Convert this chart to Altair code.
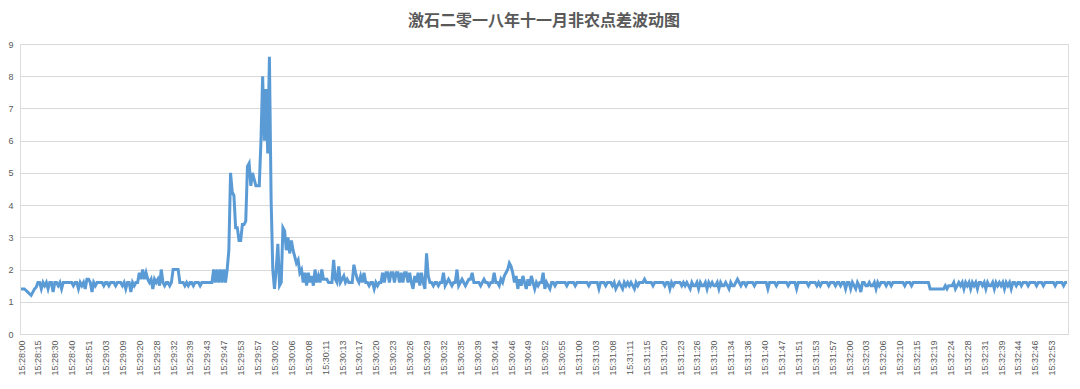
import altair as alt
import pandas as pd

TITLE = "激石二零一八年十一月非农点差波动图"

# x-axis tick labels (one every 10 data points)
tick_labels = [
    "15:28:00", "15:28:15", "15:28:30", "15:28:40", "15:28:51", "15:29:03", "15:29:09",
    "15:29:20", "15:29:28", "15:29:32", "15:29:39", "15:29:43", "15:29:47", "15:29:53",
    "15:29:57", "15:30:02", "15:30:06", "15:30:08", "15:30:11", "15:30:13", "15:30:17",
    "15:30:20", "15:30:23", "15:30:26", "15:30:29", "15:30:32", "15:30:35", "15:30:39",
    "15:30:44", "15:30:46", "15:30:49", "15:30:52", "15:30:55", "15:31:00", "15:31:03",
    "15:31:08", "15:31:11", "15:31:15", "15:31:20", "15:31:23", "15:31:26", "15:31:30",
    "15:31:34", "15:31:36", "15:31:40", "15:31:47", "15:31:51", "15:31:53", "15:31:57",
    "15:32:00", "15:32:03", "15:32:06", "15:32:10", "15:32:15", "15:32:19", "15:32:24",
    "15:32:28", "15:32:31", "15:32:39", "15:32:44", "15:32:46", "15:32:53",
]

# spread values, 10 points per labelled interval
spread_2800_2957 = [
    1.4, 1.4, 1.4, 1.35, 1.3, 1.25, 1.2, 1.3, 1.4, 1.45,
    1.6, 1.6, 1.4, 1.6, 1.5, 1.6, 1.4, 1.6, 1.6, 1.3,
    1.6, 1.6, 1.5, 1.6, 1.4, 1.6, 1.6, 1.6, 1.6, 1.6,
    1.6, 1.5, 1.6, 1.6, 1.4, 1.6, 1.5, 1.6, 1.4, 1.7,
    1.7, 1.6, 1.3, 1.6, 1.5, 1.6, 1.6, 1.6, 1.6, 1.5,
    1.6, 1.6, 1.5, 1.6, 1.6, 1.6, 1.5, 1.6, 1.6, 1.6,
    1.5, 1.6, 1.4, 1.6, 1.6, 1.3, 1.6, 1.5, 1.6, 1.6,
    1.9, 1.7, 2.0, 1.7, 1.9, 1.7, 1.6, 1.7, 1.4, 1.7,
    1.6, 1.7, 1.5, 2.0, 1.6, 1.5, 1.6, 1.6, 1.5, 1.6,
    2.0, 2.0, 2.0, 2.0, 1.6, 1.6, 1.6, 1.5, 1.6, 1.5,
    1.6, 1.6, 1.5, 1.6, 1.6, 1.6, 1.5, 1.6, 1.6, 1.6,
    1.6, 1.6, 1.6, 1.6, 2.0, 1.6, 2.0, 1.6, 2.0, 1.6,
    2.0, 1.6, 2.0, 2.6, 5.0, 4.4, 4.3, 3.3, 3.3, 2.9,
    2.9, 3.4, 3.4, 3.5, 5.2, 5.3, 4.6, 5.0, 4.8, 4.6,
    4.6, 4.6, 6.0, 8.0, 6.0, 7.6, 5.6, 8.6, 4.2, 2.0,
]
spread_3002_3052 = [
    1.4, 2.0, 2.8, 1.5, 1.6, 3.3, 3.2, 2.6, 3.0, 2.5,
    2.9, 2.6, 2.4, 2.2, 2.3, 1.9, 2.0, 1.6, 1.9, 1.5,
    1.9, 1.6, 1.8, 1.5, 2.0, 1.6, 1.8, 1.6, 2.0, 1.7,
    1.7, 1.7, 1.6, 1.6, 1.6, 2.3, 1.7, 1.6, 2.1, 1.6,
    1.7, 1.8, 1.6, 1.7, 1.6, 1.6, 1.6, 2.15, 1.9, 1.7,
    1.6, 1.8, 1.6, 1.9, 1.6, 1.6, 1.5, 1.6, 1.6, 1.4,
    1.6, 1.5, 1.6, 1.6, 1.9, 1.6, 1.9, 1.9, 1.6, 1.9,
    1.9, 1.6, 1.9, 1.9, 1.6, 1.9, 1.6, 1.9, 1.9, 1.6,
    1.9, 1.6, 1.4, 1.8, 1.6, 1.9, 1.5, 1.9, 1.6, 1.4,
    2.5, 1.8, 1.6, 1.6, 1.5, 1.6, 1.6, 1.5, 1.6, 1.6,
    1.9, 1.5, 1.6, 1.7, 1.6, 1.5, 1.6, 1.6, 2.0, 1.5,
    1.6, 1.7, 1.6, 1.5, 1.6, 1.7, 1.7, 1.9, 1.6, 1.6,
    1.6, 1.6, 1.5, 1.6, 1.7, 1.6, 1.6, 1.5, 1.6, 1.6,
    1.9, 1.6, 1.6, 1.5, 1.7, 1.6, 1.8, 1.9, 2.0, 2.2,
    2.1, 1.9, 1.6, 1.8, 1.4, 1.7, 1.5, 1.8, 1.6, 1.4,
    1.7, 1.5, 1.8, 1.6, 1.4, 1.6, 1.5, 1.6, 1.6, 1.9,
]
spread_3055_3253 = [
    1.4, 1.6, 1.5, 1.4, 1.6, 1.6, 1.5, 1.6, 1.6, 1.6,
    1.6, 1.6, 1.6, 1.5, 1.6, 1.6, 1.6, 1.6, 1.5, 1.6,
    1.6, 1.6, 1.6, 1.6, 1.6, 1.6, 1.5, 1.6, 1.6, 1.6,
    1.6, 1.6, 1.4, 1.6, 1.6, 1.6, 1.5, 1.6, 1.6, 1.6,
    1.5, 1.6, 1.4, 1.5, 1.6, 1.5, 1.4, 1.6, 1.5, 1.6,
    1.5, 1.6, 1.5, 1.4, 1.6, 1.5, 1.6, 1.6, 1.6, 1.7,
    1.6, 1.6, 1.6, 1.6, 1.5, 1.6, 1.6, 1.6, 1.6, 1.6,
    1.6, 1.5, 1.6, 1.6, 1.4, 1.6, 1.5, 1.6, 1.6, 1.6,
    1.6, 1.5, 1.6, 1.5, 1.6, 1.5, 1.4, 1.6, 1.5, 1.5,
    1.6, 1.4, 1.6, 1.5, 1.5, 1.6, 1.4, 1.6, 1.5, 1.6,
    1.5, 1.5, 1.6, 1.4, 1.6, 1.5, 1.5, 1.6, 1.5, 1.4,
    1.6, 1.5, 1.5, 1.6, 1.7, 1.6, 1.5, 1.6, 1.6, 1.5,
    1.6, 1.6, 1.6, 1.6, 1.5, 1.6, 1.6, 1.6, 1.6, 1.6,
    1.6, 1.6, 1.4, 1.6, 1.6, 1.6, 1.6, 1.5, 1.6, 1.6,
    1.6, 1.6, 1.6, 1.6, 1.5, 1.6, 1.6, 1.6, 1.6, 1.4,
    1.6, 1.6, 1.6, 1.6, 1.6, 1.6, 1.5, 1.6, 1.6, 1.6,
    1.6, 1.5, 1.6, 1.5, 1.6, 1.6, 1.6, 1.6, 1.5, 1.6,
    1.6, 1.6, 1.5, 1.6, 1.6, 1.5, 1.6, 1.6, 1.4, 1.6,
    1.6, 1.4, 1.6, 1.5, 1.4, 1.6, 1.5, 1.3, 1.6, 1.6,
    1.5, 1.5, 1.6, 1.5, 1.5, 1.6, 1.4, 1.6, 1.5, 1.6,
    1.6, 1.6, 1.5, 1.6, 1.6, 1.5, 1.6, 1.6, 1.6, 1.6,
    1.6, 1.6, 1.6, 1.5, 1.6, 1.6, 1.6, 1.5, 1.6, 1.6,
    1.6, 1.6, 1.6, 1.6, 1.6, 1.6, 1.6, 1.6, 1.4, 1.4,
    1.4, 1.4, 1.4, 1.4, 1.4, 1.4, 1.4, 1.5, 1.4, 1.5,
    1.5, 1.5, 1.6, 1.4, 1.5, 1.6, 1.5, 1.6, 1.4, 1.6,
    1.5, 1.6, 1.4, 1.6, 1.5, 1.6, 1.4, 1.6, 1.6, 1.5,
    1.6, 1.4, 1.6, 1.5, 1.5, 1.6, 1.4, 1.6, 1.5, 1.6,
    1.5, 1.6, 1.4, 1.6, 1.5, 1.6, 1.4, 1.6, 1.6, 1.5,
    1.6, 1.6, 1.5, 1.6, 1.6, 1.6, 1.5, 1.6, 1.6, 1.6,
    1.6, 1.5, 1.6, 1.6, 1.6, 1.5, 1.6, 1.6, 1.6, 1.6,
    1.6, 1.6, 1.5, 1.6, 1.6, 1.6, 1.6, 1.5, 1.6, 1.6,
]

values = spread_2800_2957 + spread_3002_3052 + spread_3055_3253
df = pd.DataFrame({"idx": list(range(len(values))), "spread": values})

label_js = "[" + ",".join("'" + s + "'" for s in tick_labels) + "]"
tick_vals = [i * 10 for i in range(len(tick_labels))]

GREY = "#595959"
GRID = "#d9d9d9"

chart = (
    alt.Chart(df)
    .mark_line(color="#5b9bd5", strokeWidth=3, strokeJoin="miter")
    .encode(
        x=alt.X(
            "idx:Q",
            scale=alt.Scale(domain=[-0.6, len(values) - 0.4], nice=False, zero=False),
            axis=alt.Axis(
                values=tick_vals,
                labelExpr=label_js + "[round(datum.value/10)]",
                labelAngle=270,
                labelAlign="right",
                labelBaseline="middle",
                labelFontSize=9,
                labelColor=GREY,
                labelFont="Liberation Sans",
                labelPadding=6,
                labelOverlap=False,
                labelFlush=False,
                labelBound=False,
                ticks=False,
                grid=False,
                domainColor=GRID,
                domainWidth=1,
                title=None,
            ),
        ),
        y=alt.Y(
            "spread:Q",
            scale=alt.Scale(domain=[0, 9], nice=False),
            axis=alt.Axis(
                values=list(range(0, 10)),
                labelFontSize=9,
                labelColor=GREY,
                labelFont="Liberation Sans",
                labelPadding=7,
                ticks=False,
                domain=False,
                gridColor=GRID,
                gridWidth=1,
                title=None,
            ),
        ),
    )
    .properties(
        width=1048,
        height=290,
        title=alt.TitleParams(
            TITLE,
            font="Noto Sans CJK SC",
            fontSize=16,
            fontWeight="bold",
            color=GREY,
            anchor="middle",
            offset=11,
        ),
        autosize=alt.AutoSizeParams(type="none"),
        padding={"left": 12, "top": 36, "right": 4, "bottom": 48},
    )
    .configure_view(stroke=None)
    .configure(background="white")
)

chart.save("out.html", embed_options={"renderer": "svg", "actions": False})
